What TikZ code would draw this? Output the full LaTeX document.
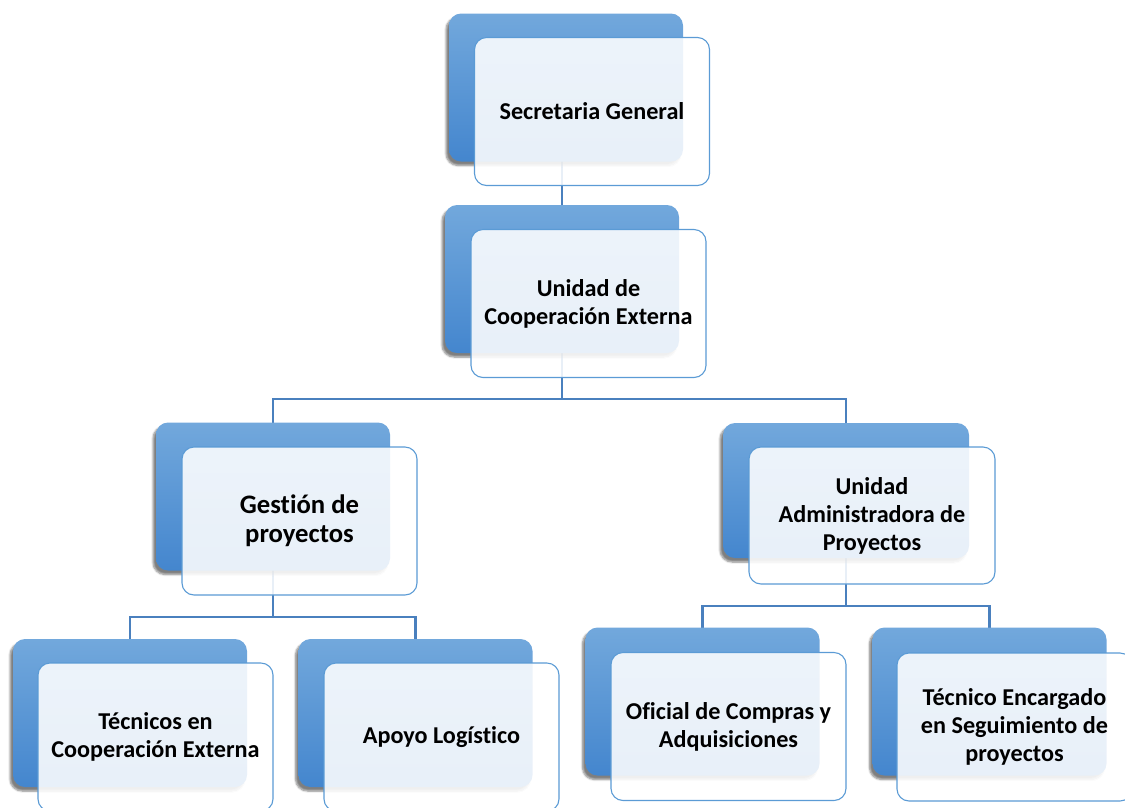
\documentclass[tikz,border=0pt]{standalone}
\usepackage{fontspec}
\setmainfont{Carlito}[Ligatures=NoCommon]
\usepackage{tikz}
\usetikzlibrary{backgrounds,shadows.blur}
\definecolor{boxtop}{RGB}{114,168,220}
\definecolor{boxbot}{RGB}{68,134,206}
\definecolor{boxline}{RGB}{91,155,213}
\definecolor{linkcol}{RGB}{74,128,190}

\begin{document}
\begin{tikzpicture}[x=1pt,y=-1pt,
  back/.style={rounded corners=12pt, minimum width=234pt, minimum height=148pt,
    top color=boxtop, bottom color=boxbot, draw=none,
    blur shadow={shadow xshift=-3pt, shadow yshift=-4pt, shadow opacity=50, shadow blur steps=6}},
  front/.style={rounded corners=12pt, minimum width=235pt, minimum height=148pt,
    draw=boxline, line width=1.1pt, fill=white, fill opacity=.88, text opacity=1,
    align=center, font=\fontsize{24.2}{28}\selectfont\bfseries},
  link/.style={draw=linkcol, line width=2.5pt}]
\useasboundingbox (0,0) rectangle (1125,807);

% top
\node[back] (sg-b) at (566,87.5) {};
\node[front] (sg) at (592,111.5) {Secretaria General};
\node[back] (uce-b) at (562,279) {};
\node[front] (uce) at (588.5,303.5) {Unidad de\\Cooperaci\'on Externa};

% second row
\node[back] (gp-b) at (273,496.5) {};
\node[front, font=\fontsize{26.7}{29}\selectfont\bfseries] (gp) at (299.5,521) {Gesti\'on de\\proyectos};
\node[back, minimum width=246pt, minimum height=135pt] (uap-b) at (846,490.5) {};
\node[front, minimum width=246pt, minimum height=137pt] (uap) at (872,515.5) {Unidad\\Administradora de\\Proyectos};

% bottom row
\node[back] (tce-b) at (130,713) {};
\node[front] (tce) at (155.5,737) {T\'ecnicos en\\Cooperaci\'on Externa};
\node[back] (al-b) at (415.5,713) {};
\node[front] (al) at (441.5,737) {Apoyo Log\'istico};
\node[back] (oca-b) at (702.5,701.5) {};
\node[front] (oca) at (728.5,726.5) {Oficial de Compras y\\Adquisiciones};
\node[back] (tes-b) at (989.5,701.5) {};
\node[front] (tes) at (1014.5,727) {T\'ecnico Encargado\\en Seguimiento de\\proyectos};

\begin{pgfonlayer}{background}
\coordinate (j1) at (562,399);
\coordinate (j2) at (273,617);
\coordinate (j3) at (846,606);
\draw[link] (uce-b.center) -- (uce-b.center |- sg-b.center);
\draw[link] (uce-b.center) -- (j1);
\draw[link] (gp-b.center) |- (j1) -| (uap-b.center);
\draw[link] (gp-b.center) -- (j2);
\draw[link] (tce-b.center) |- (j2) -| (al-b.center);
\draw[link] (uap-b.center) -- (j3);
\draw[link] (oca-b.center) |- (j3) -| (tes-b.center);
\end{pgfonlayer}
\end{tikzpicture}
\end{document}
